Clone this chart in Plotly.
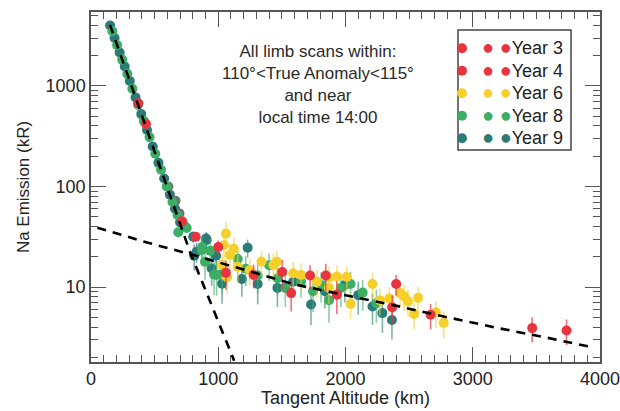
import plotly.graph_objects as go

# ---------------- data ----------------
# Year 3 (red)
y3_alt = [372, 432, 1000, 1278, 1722, 2398, 2669, 3467, 3737]
y3_val = [673, 419, 25, 13.2, 13, 10.7, 5.3, 3.9, 3.7]
y3_err = [40, 30, 4, 3.5, 3.5, 2.5, 1.5, 1.1, 1.05]

# Year 4 (red)
y4_alt = [716, 823, 1060, 1503, 1573, 1845, 1932, 2367]
y4_val = [45, 31.6, 13.9, 14.1, 8.7, 13, 8.4, 6.3]
y4_err = [4, 3, 4.5, 4.5, 3, 4, 3, 2]

# Year 6 (yellow)
y6_alt = [1030, 1045, 1060, 1070, 1091, 1122, 1153, 1247, 1340, 1433, 1460, 1589, 1651,
          1776, 1870, 1870, 1932, 2010, 2040, 2212, 2270, 2344, 2429, 2460, 2491, 2539,
          2570, 2710, 2772]
y6_val = [16.6, 26, 34, 12.5, 21, 24, 15.9, 14.7, 17.9, 16.6, 17.8, 13.7, 13.2,
          11.3, 9.8, 12.4, 12.7, 12.6, 6.8, 10.7, 7.4, 7.7, 8.7, 8.1, 7.2, 5.4,
          7.8, 5.6, 4.4]
y6_err = [5, 8, 10, 4, 6, 7, 5, 4.5, 5, 5, 5, 4, 4,
          3.5, 3, 3.5, 3.5, 3.5, 2, 3, 2.2, 2.3, 2.5, 2.4, 2.2, 1.6,
          2.3, 1.7, 1.3]

# Year 8 (green)
y8_alt = [168, 205, 245, 285, 325, 370, 415, 460, 505, 550, 595, 640, 680, 740,
          686, 752, 870, 873, 896, 936, 967, 988, 1030, 1153, 1216, 1310, 1400, 1465,
          1527, 1651, 1745, 1808, 1870, 1964, 2040, 2135, 2243]
y8_val = [3500, 2550, 1830, 1320, 940, 650, 450, 310, 212, 147, 100, 70, 52, 40,
          35, 38.6, 23.3, 25, 17.8, 23, 13.3, 13.2, 13.5, 19, 15.2, 13, 16.5, 12.2,
          9.8, 11.3, 9.1, 10.5, 7.4, 9.8, 10.7, 8.8, 6.9]
y8_err = [100, 80, 60, 40, 30, 20, 15, 10, 7, 5, 4, 3, 3, 3,
          4, 4, 6, 6, 6, 7, 5, 5, 5, 6, 5, 4.5, 5, 4,
          3.5, 3.5, 3.5, 3.5, 3, 3.5, 3.5, 3, 2.5]

# Year 9 (teal)
y9_alt = [150, 185, 225, 265, 305, 350, 395, 440, 485, 530, 575, 620, 660, 700,
          803, 811, 830, 904, 909, 948, 983, 1030, 1185, 1231, 1310, 1465, 1589, 1729,
          1838, 1995, 2100, 2212, 2290, 2365]
y9_val = [4000, 3000, 2150, 1560, 1120, 770, 525, 365, 250, 172, 120, 83, 60, 44,
          31.6, 20.5, 22.4, 30.3, 29.4, 15.3, 20.5, 10.8, 12, 24.6, 10.7, 9.8, 11.3, 6.7,
          9.1, 10.5, 8.3, 6.4, 5.5, 4.7]
y9_err = [100, 80, 60, 40, 30, 20, 15, 10, 7, 5, 4, 3, 3, 3,
          4, 6, 5, 5, 5, 5, 6, 4, 4, 5, 4, 3.5, 3.5, 2.5,
          3, 3.5, 3, 2.2, 2, 1.7]

# grey-looking points in the knee (part of the year 9 chain)
grey_alt = [608, 664, 695]
grey_val = [100, 72, 54]
grey_err = [3, 2, 2]

# fitted model curves (dashed)
fit1_alt = [149, 778, 1125]
fit1_val = [4050, 22.3, 1.85]
fit2_alt = [50, 450, 800, 1000, 1300, 1600, 2000, 2400, 2800, 3200, 3600, 3950]
fit2_val = [38.9, 27.5, 20.9, 17.6, 13.5, 10.6, 8.3, 6.5, 5.0, 3.9, 3.1, 2.5]

x_ticks = [0, 1000, 2000, 3000, 4000]
y_ticks = [10, 100, 1000]

RED = '#e8343f'
YEL = '#f6cf2a'
GRN = '#3cae66'
TEAL = '#2b7b78'
GREY = '#707070'

fig = go.Figure()


def add_series(alt, val, err, color, errcolor, name, rank, show=True):
    fig.add_trace(go.Scatter(
        x=alt, y=val, mode='markers', name=name, legendrank=rank, showlegend=show,
        marker=dict(size=10, color=color, line=dict(width=0)),
        error_y=dict(type='data', array=err, color=errcolor, thickness=1.6, width=0),
    ))


def lname(color, label):
    return ("<span style='color:%s;font-size:20px'>● ●</span>"
            "<span style='font-size:18px'>%s</span>" % (color, label))


add_series(y9_alt, y9_val, y9_err, TEAL, 'rgba(43,123,120,0.6)', lname(TEAL, 'Year 9'), 5)
add_series(grey_alt, grey_val, grey_err, GREY, 'rgba(110,110,110,0.5)', 'grey', 6, False)
add_series(y8_alt, y8_val, y8_err, GRN, 'rgba(60,174,102,0.6)', lname(GRN, 'Year 8'), 4)
add_series(y6_alt, y6_val, y6_err, YEL, 'rgba(246,207,42,0.6)', lname(YEL, 'Year 6'), 3)
add_series(y4_alt, y4_val, y4_err, RED, 'rgba(232,52,63,0.7)', lname(RED, 'Year 4'), 2)
add_series(y3_alt, y3_val, y3_err, RED, 'rgba(232,52,63,0.7)', lname(RED, 'Year 3'), 1)

for fa, fv in ((fit1_alt, fit1_val), (fit2_alt, fit2_val)):
    fig.add_trace(go.Scatter(x=fa, y=fv, mode='lines', showlegend=False,
                             line=dict(color='black', width=2.6, dash='9px,7px')))

axis_common = dict(
    showline=True, linecolor='#555', linewidth=1.5, mirror='allticks',
    ticks='inside', ticklen=15, tickwidth=1.2, tickcolor='#555',
    showgrid=False, zeroline=False, ticklabeloverflow='allow', automargin=False,
    tickfont=dict(size=18, color='#222'),
)

fig.update_xaxes(range=[0, 4000], tickvals=x_ticks, ticklabelstandoff=0,
                 minor=dict(ticks='inside', ticklen=7, tickwidth=1.2, tickcolor='#555', dtick=100),
                 **axis_common)
fig.update_yaxes(type='log', range=[0.254, 3.736], tickvals=y_ticks,
                 minor=dict(ticks='inside', ticklen=7, tickwidth=1.2, tickcolor='#555', dtick='D1'),
                 title=dict(text='Na Emission (kR)', font=dict(size=17, color='#222'), standoff=12),
                 **axis_common)

# x-axis title placed as an annotation just below the tick labels
fig.add_annotation(
    text='Tangent Altitude (km)', xref='paper', yref='paper',
    x=0.5, y=-(398 - 362) / 350, xanchor='center', yanchor='middle',
    showarrow=False, font=dict(size=18, color='#222'), borderpad=0)

fig.add_annotation(
    text='All limb scans within:<br>110°&lt;True Anomaly&lt;115°<br>and near<br>local time 14:00',
    xref='paper', yref='paper', x=0.446, y=0.92, xanchor='center', yanchor='top',
    showarrow=False, align='center', font=dict(size=17, color='#2a2a2a'))

# legend frame
fig.add_shape(type='rect', xref='paper', yref='paper',
              x0=(458 - 91) / 509, x1=(571 - 91) / 509,
              y0=1 - (150 - 12) / 350, y1=1 - (30 - 12) / 350,
              line=dict(color='#444', width=1.5), fillcolor='white', layer='below')

fig.update_layout(
    width=620, height=411,
    margin=dict(l=91, r=20, t=12, b=49, autoexpand=False),
    paper_bgcolor='white', plot_bgcolor='white',
    font=dict(family='Liberation Sans, Arial, sans-serif', color='#222'),
    showlegend=True,
    legend=dict(x=(442 - 91) / 509, y=0.943, xanchor='left', yanchor='top',
                bgcolor='rgba(0,0,0,0)', borderwidth=0,
                font=dict(size=15, color='#222'), itemwidth=30, tracegroupgap=0),
)

fig.write_html('out.html')
